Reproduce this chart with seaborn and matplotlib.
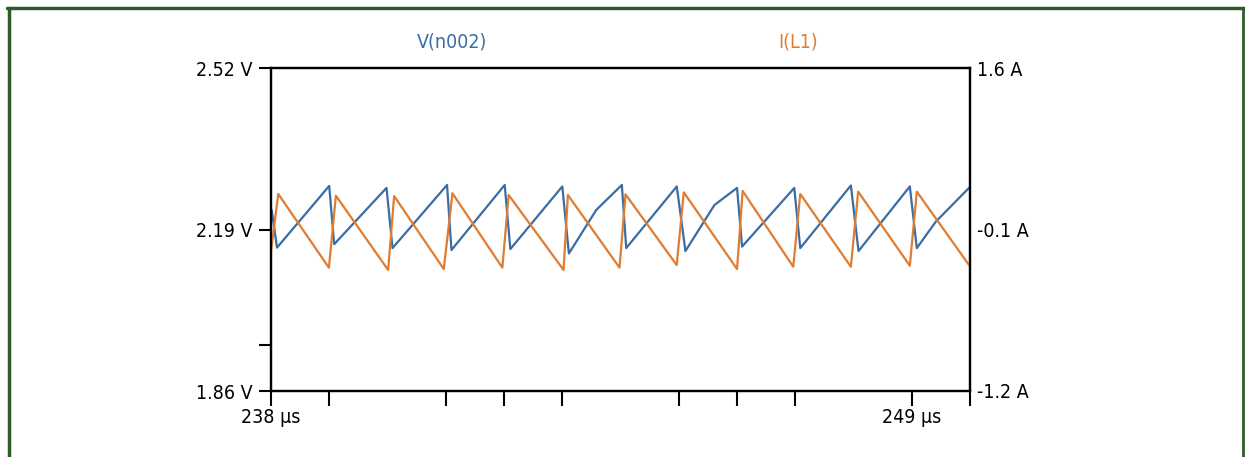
import matplotlib
matplotlib.use("Agg")
import matplotlib.pyplot as plt
import seaborn as sns
import pandas as pd

# V(n002) vertices, time in us, volts
v_time = [238.012, 238.103, 238.999, 239.085, 239.983, 240.086, 241.022, 241.098,
          242.012, 242.109, 243.001, 243.114, 243.584, 244.023, 244.098, 244.966,
          245.115, 245.612, 246.001, 246.087, 246.983, 247.086, 247.955, 248.086,
          248.967, 249.087, 249.413, 249.983]
v_vals = [2.230, 2.153, 2.279, 2.160, 2.275, 2.152, 2.281, 2.148,
          2.281, 2.150, 2.278, 2.141, 2.230, 2.281, 2.152, 2.278,
          2.146, 2.240, 2.275, 2.155, 2.275, 2.152, 2.280, 2.146,
          2.278, 2.152, 2.206, 2.275]

# I(L1) vertices, time in us, amps
i_time = [238.000, 238.125, 238.994, 239.114, 240.011, 240.114, 240.966, 241.115,
          241.972, 242.080, 243.023, 243.097, 243.983, 244.086, 244.965, 245.086,
          246.001, 246.097, 246.966, 247.086, 247.955, 248.080, 248.967, 249.087,
          249.983]
i_vals = [0.014, 0.508, -0.131, 0.493, -0.151, 0.490, -0.143, 0.514,
          -0.131, 0.499, -0.151, 0.499, -0.131, 0.505, -0.108, 0.522,
          -0.143, 0.534, -0.123, 0.508, -0.123, 0.528, -0.114, 0.528,
          -0.108]

x_ticks = [238, 239, 241, 242, 243, 245, 246, 247, 249, 250]
x_labels = ["238 µs", "", "", "", "", "", "", "", "249 µs", ""]
v_ticks = [1.86, 1.955, 2.19, 2.52]
v_labels = ["1.86 V", "", "2.19 V", "2.52 V"]
i_ticks = [-1.2, 0.2, 1.6]
i_labels = ["-1.2 A", "-0.1 A", "1.6 A"]

blue = "#3a6ca6"
orange = "#e07c32"

sns.set_style("white")
plt.rcParams["font.family"] = ["DejaVu Sans"]
plt.rcParams["font.stretch"] = "condensed"
plt.rcParams["text.color"] = "black"
plt.rcParams["xtick.color"] = "black"
plt.rcParams["ytick.color"] = "black"

df_v = pd.DataFrame({"t": v_time, "v": v_vals})
df_i = pd.DataFrame({"t": i_time, "i": i_vals})

fig = plt.figure(figsize=(12.45, 4.57), dpi=100)
ax = fig.add_axes([271 / 1245, 1 - 391 / 457, 699 / 1245, 323 / 457])
ax2 = ax.twinx()

sns.lineplot(data=df_v, x="t", y="v", ax=ax, color=blue, linewidth=1.6)
sns.lineplot(data=df_i, x="t", y="i", ax=ax2, color=orange, linewidth=1.6)

ax.set_xlim(238, 250)
ax.set_ylim(1.86, 2.52)
ax2.set_ylim(-1.2, 1.6)
ax.set_xticks(x_ticks)
ax.set_xticklabels(x_labels)
ax.set_yticks(v_ticks)
ax.set_yticklabels(v_labels)
ax2.set_yticks(i_ticks)
ax2.set_yticklabels(i_labels)
ax.set_xlabel("")
ax.set_ylabel("")
ax2.set_ylabel("")

ax.tick_params(axis="x", direction="out", length=11, width=1.5, labelsize=14,
               pad=1, bottom=True, colors="black")
ax.tick_params(axis="y", direction="out", length=9, width=1.5, labelsize=14,
               pad=4, left=True, colors="black")
ax2.tick_params(axis="y", length=0, labelsize=14, pad=5, colors="black")

for a in (ax, ax2):
    for s in a.spines.values():
        s.set_visible(True)
        s.set_color("black")
        s.set_linewidth(1.6)

fig.text(452 / 1245, 1 - 42 / 457, "V(n002)", color=blue, fontsize=14,
         ha="center", va="center")
fig.text(798 / 1245, 1 - 42 / 457, "I(L1)", color=orange, fontsize=14,
         ha="center", va="center")

# green frame
green = "#2f5a2a"
fig.add_artist(plt.Line2D([8.5 / 1245, 8.5 / 1245], [0, 1 - 7.5 / 457],
                          color=green, linewidth=2.5, transform=fig.transFigure))
fig.add_artist(plt.Line2D([7 / 1245, 1], [1 - 7.5 / 457, 1 - 7.5 / 457],
                          color=green, linewidth=2.5, transform=fig.transFigure))
fig.add_artist(plt.Line2D([1243 / 1245, 1243 / 1245], [0, 1 - 7.5 / 457],
                          color=green, linewidth=2.0, transform=fig.transFigure))

fig.savefig("out.png", dpi=100, facecolor="white")
